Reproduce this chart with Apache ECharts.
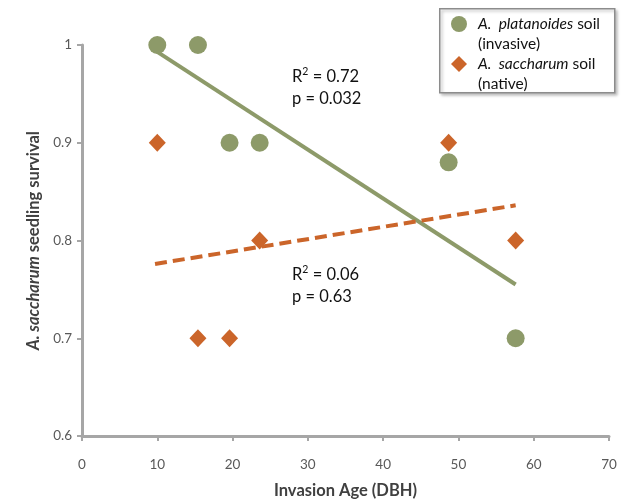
<!DOCTYPE html>
<html>
<head>
<meta charset="utf-8">
<script src="https://cdn.jsdelivr.net/npm/echarts@6/dist/echarts.min.js"></script>
<style>html,body{margin:0;padding:0;background:#fff}#c{width:625px;height:504px}</style>
</head>
<body>
<div id="c"></div>
<script>
// Data
const xTicks = [0, 10, 20, 30, 40, 50, 60, 70];
const yTicks = [0.6, 0.7, 0.8, 0.9, 1];
const platanoidesX = [10, 15.4, 19.6, 23.6, 48.7, 57.6];
const platanoidesY = [1, 1, 0.9, 0.9, 0.88, 0.7];
const saccharumX = [10, 15.4, 19.6, 23.6, 48.7, 57.6];
const saccharumY = [0.9, 0.7, 0.7, 0.8, 0.9, 0.8];
const trendPlatanoidesX = [10, 57.6];
const trendPlatanoidesY = [0.993, 0.755];
const trendSaccharumX = [9.7, 57.6];
const trendSaccharumY = [0.776, 0.836];
const statsPlatanoides = ['0.72', '0.032'];
const statsSaccharum = ['0.06', '0.63'];

const GREEN = '#8D9A69';
const ORANGE = '#CB652A';
const FONT = 'Lato, "Open Sans", sans-serif';

const zip = (xs, ys) => xs.map((x, i) => [x, ys[i]]);

const chart = echarts.init(document.getElementById('c'), null, {renderer: 'canvas'});

const statText = (vals) => ({
  text: '{n|R}{s|2}{n| = ' + vals[0] + '}\n{n|p = ' + vals[1] + '}',
  rich: {
    n: {fontSize: 16.5, fontFamily: FONT, fill: '#111', lineHeight: 22},
    s: {fontSize: 10.5, fontFamily: FONT, fill: '#111', verticalAlign: 'top', lineHeight: 22, padding: [0, 0, 8, 0]}
  }
});

chart.setOption({
  animation: false,
  backgroundColor: '#ffffff',
  grid: {left: 82, right: 16, top: 45, bottom: 66, containLabel: false},
  xAxis: {
    type: 'value', min: xTicks[0], max: xTicks[xTicks.length - 1], interval: 10,
    name: 'Invasion Age (DBH)', nameLocation: 'middle', nameGap: 46,
    nameTextStyle: {fontFamily: FONT, fontWeight: 'bold', fontSize: 16.5, color: '#404040'},
    axisLine: {show: true, lineStyle: {color: '#A6A6A6', width: 3}},
    axisTick: {show: true, length: 5, inside: false, lineStyle: {color: '#A6A6A6', width: 2}},
    axisLabel: {fontFamily: FONT, fontSize: 13.5, color: '#595959', margin: 22},
    splitLine: {show: false}
  },
  yAxis: {
    type: 'value', min: yTicks[0], max: yTicks[yTicks.length - 1], interval: 0.1,
    name: '{i|A. saccharum} seedling survival', nameLocation: 'middle', nameGap: 40, nameRotate: 90,
    nameTextStyle: {
      fontFamily: FONT, fontWeight: 'bold', fontSize: 16.5, color: '#404040',
      rich: {i: {fontFamily: FONT, fontWeight: 'bold', fontStyle: 'italic', fontSize: 16.5, color: '#404040'}}
    },
    axisLine: {show: true, lineStyle: {color: '#A6A6A6', width: 3}},
    axisTick: {show: true, length: 5, lineStyle: {color: '#A6A6A6', width: 2}},
    axisLabel: {fontFamily: FONT, fontSize: 13.5, color: '#595959', margin: 10,
      formatter: v => String(Math.round(v * 10) / 10)},
    splitLine: {show: false}
  },
  legend: {
    left: 451, top: -6, orient: 'vertical', padding: 0, itemGap: -20,
    itemWidth: 16, itemHeight: 16,
    data: ['platanoides', 'saccharum'],
    formatter: name => name === 'platanoides'
      ? '{i|A.  platanoides} soil\n(invasive)'
      : '{i|A.  saccharum} soil\n(native)',
    textStyle: {
      fontFamily: FONT, fontSize: 15.5, color: '#111', lineHeight: 20, padding: [20, 0, 0, 6],
      rich: {i: {fontFamily: FONT, fontStyle: 'italic', fontSize: 15.5, color: '#111', lineHeight: 20}}
    }
  },
  graphic: [
    {type: 'rect', left: 439, top: 8, z: -1,
      shape: {width: 175, height: 84},
      style: {fill: '#fff', stroke: '#8C8C8C', lineWidth: 1.5,
        shadowBlur: 3, shadowOffsetX: 2, shadowOffsetY: 2, shadowColor: 'rgba(0,0,0,0.25)'}},
    {type: 'text', left: 292, top: 66, style: statText(statsPlatanoides)},
    {type: 'text', left: 292, top: 264, style: statText(statsSaccharum)}
  ],
  series: [
    {
      name: 'trendP', type: 'line', data: zip(trendPlatanoidesX, trendPlatanoidesY),
      symbol: 'none', lineStyle: {color: GREEN, width: 4}, z: 2, silent: true
    },
    {
      name: 'trendS', type: 'line', data: zip(trendSaccharumX, trendSaccharumY),
      symbol: 'none', lineStyle: {color: ORANGE, width: 4, type: [12, 6]}, z: 2, silent: true
    },
    {
      name: 'platanoides', type: 'scatter', data: zip(platanoidesX, platanoidesY),
      symbol: 'circle', symbolSize: 18, itemStyle: {color: GREEN, opacity: 1}, z: 3
    },
    {
      name: 'saccharum', type: 'scatter', data: zip(saccharumX, saccharumY),
      symbol: 'diamond', symbolSize: [17, 18], itemStyle: {color: ORANGE, opacity: 1}, z: 4
    }
  ]
});
</script>
</body>
</html>
